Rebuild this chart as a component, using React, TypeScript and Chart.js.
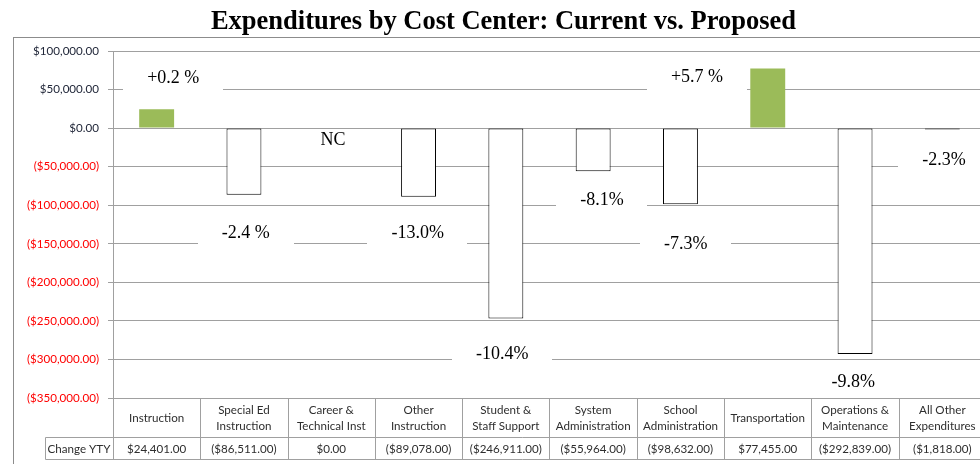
import React, { useEffect, useRef } from 'react';
import { Chart, registerables } from 'chart.js';

Chart.register(...registerables);

// ---------------- data ----------------
const chartTitle = 'Expenditures by Cost Center: Current vs. Proposed';
const categories: string[][] = [
  ['Instruction'],
  ['Special Ed', 'Instruction'],
  ['Career &', 'Technical Inst'],
  ['Other', 'Instruction'],
  ['Student &', 'Staff Support'],
  ['System', 'Administration'],
  ['School', 'Administration'],
  ['Transportation'],
  ['Operations &', 'Maintenance'],
  ['All Other', 'Expenditures'],
];
const changeYTY = [24401, -86511, 0, -89078, -246911, -55964, -98632, 77455, -292839, -1818];
const tableRowLabel = 'Change YTY';
const pctLabels = ['+0.2 %', '-2.4 %', 'NC', '-13.0%', '-10.4%', '-8.1%', '-7.3%', '+5.7 %', '-9.8%', '-2.3%'];
// annotation anchors in data units (category index, value)
const pctAnchorX = [0.19, 1.02, 2.02, 2.99, 3.96, 5.1, 6.06, 6.19, 7.98, 9.02];
const pctAnchorY = [66000, -135000, -14000, -135000, -291000, -92000, -149000, 67500, -328600, -40000];
const yMin = -350000;
const yMax = 100000;
const yStep = 50000;

// ---------------- helpers ----------------
const fmtMoney = (v: number) => {
  const s = '$' + Math.abs(v).toLocaleString('en-US', { minimumFractionDigits: 2, maximumFractionDigits: 2 });
  return v < 0 ? `(${s})` : s;
};

const W = 1000;
const H = 464;
const SANS = 'Lato, "Liberation Sans", Arial, sans-serif';
const SERIF = '"Liberation Serif", "Times New Roman", serif';
const GRID = '#A0A0A0';

const extrasPlugin = {
  id: 'extras',
  afterDatasetsDraw(chart: any) {
    const { ctx, scales } = chart;
    const x = scales.x;
    const y = scales.y;
    const x0 = x.getPixelForValue(0);
    const catW = x.getPixelForValue(1) - x0;
    ctx.save();
    ctx.font = `18px ${SERIF}`;
    ctx.textAlign = 'center';
    ctx.textBaseline = 'alphabetic';
    pctLabels.forEach((t, i) => {
      const px = x0 + pctAnchorX[i] * catW;
      const py = y.getPixelForValue(pctAnchorY[i]);
      const w = ctx.measureText(t).width + 48;
      ctx.fillStyle = '#FFFFFF';
      ctx.fillRect(Math.round(px - w / 2), Math.round(py - 10), Math.round(w), 25);
      ctx.fillStyle = '#000000';
      ctx.fillText(t, px, py + 6);
    });
    ctx.restore();
  },
  afterDraw(chart: any) {
    const { ctx, chartArea, scales } = chart;
    const x = scales.x;
    const x0 = x.getPixelForValue(0);
    const catW = x.getPixelForValue(1) - x0;
    const top = Math.round(chartArea.bottom);
    const row1 = top + 39;
    const row2 = row1 + 22;
    const leftCell = Math.round(chartArea.left) - 68;
    const crisp = (v: number) => Math.round(v) + 0.5;
    ctx.save();
    ctx.strokeStyle = GRID;
    ctx.lineWidth = 1;
    ctx.beginPath();
    for (let i = 0; i <= categories.length; i++) {
      const xb = crisp(x0 - catW / 2 + i * catW);
      ctx.moveTo(xb, top);
      ctx.lineTo(xb, row2 + 0.5);
    }
    ctx.moveTo(leftCell + 0.5, row1 + 0.5);
    ctx.lineTo(W, row1 + 0.5);
    ctx.moveTo(leftCell + 0.5, row2 + 0.5);
    ctx.lineTo(W, row2 + 0.5);
    ctx.moveTo(leftCell + 0.5, row1 + 0.5);
    ctx.lineTo(leftCell + 0.5, row2 + 0.5);
    ctx.stroke();

    ctx.fillStyle = '#2E2E2E';
    ctx.font = `11.6px ${SANS}`;
    ctx.textAlign = 'center';
    ctx.textBaseline = 'middle';
    categories.forEach((lines, i) => {
      const cx = x0 + i * catW;
      const mid = (top + row1) / 2 + 0.5;
      if (lines.length === 1) {
        ctx.fillText(lines[0], cx, mid);
      } else {
        ctx.fillText(lines[0], cx, mid - 8);
        ctx.fillText(lines[1], cx, mid + 8);
      }
      ctx.fillText(fmtMoney(changeYTY[i]), cx, (row1 + row2) / 2 + 1);
    });
    ctx.fillText(tableRowLabel, (leftCell + chartArea.left) / 2, (row1 + row2) / 2 + 1);

    // outer chart border
    ctx.strokeStyle = '#8C8C8C';
    ctx.strokeRect(13.5, 37.5, W + 20, H);
    ctx.restore();
  },
};

export default function App() {
  const ref = useRef<HTMLCanvasElement | null>(null);
  useEffect(() => {
    if (!ref.current) return;
    const chart = new Chart(ref.current, {
      type: 'bar',
      data: {
        labels: categories.map((c) => c.join(' ')),
        datasets: [
          {
            data: changeYTY,
            backgroundColor: changeYTY.map((v) => (v > 0 ? '#9BBB59' : '#FFFFFF')),
            borderColor: changeYTY.map((v) => (v > 0 ? '#9BBB59' : '#000000')),
            borderWidth: changeYTY.map((v) => (v < 0 ? 1 : 0)),
            borderSkipped: false,
            categoryPercentage: 1,
            barPercentage: 0.4,
          } as any,
        ],
      },
      options: {
        animation: false,
        responsive: false,
        devicePixelRatio: 1,
        layout: { padding: { left: 21, right: W - 986, top: 0, bottom: H - 398 } },
        plugins: {
          legend: { display: false },
          tooltip: { enabled: false },
          title: {
            display: true,
            text: chartTitle,
            color: '#000000',
            font: { family: SERIF, size: 26.5, weight: 'bold' },
            padding: { top: 6, bottom: 13.2 },
          },
        },
        scales: {
          x: { display: false },
          y: {
            min: yMin,
            max: yMax,
            ticks: {
              stepSize: yStep,
              padding: 9,
              callback: (v: any) => fmtMoney(Number(v)),
              color: (c: any) => (c.tick && c.tick.value < 0 ? '#FF0000' : '#22283A'),
              font: { family: SANS, size: 11.6 },
            },
            grid: { color: GRID, tickLength: 5 },
            border: { color: GRID },
            afterFit: (s: any) => {
              s.width = 92;
            },
          },
        },
      } as any,
      plugins: [extrasPlugin],
    });
    return () => chart.destroy();
  }, []);
  return (
    <div style={{ position: 'absolute', left: 0, top: 0, width: 980, height: H, overflow: 'hidden', background: '#fff' }}>
      <canvas ref={ref} width={W} height={H} style={{ display: 'block', width: W, height: H }} />
    </div>
  );
}
